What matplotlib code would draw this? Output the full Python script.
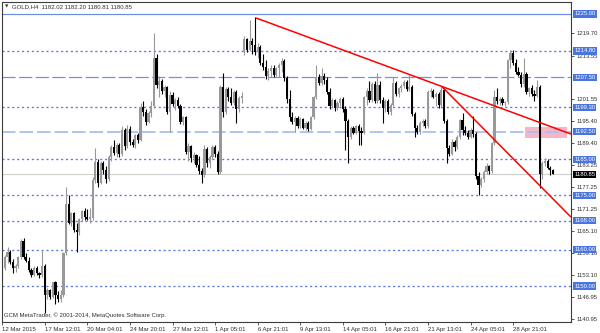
"""GOLD H4 candlestick chart in MetaTrader style, with levels and trend lines."""

import matplotlib
matplotlib.use("Agg")
import matplotlib.pyplot as plt
import matplotlib.patches as patches
import matplotlib.transforms as mtransforms

plt.rcParams["font.family"] = ["Liberation Sans", "DejaVu Sans"]

# ---------------------------------------------------------------------------
# Colour scheme
# ---------------------------------------------------------------------------
BULL_CLR = "#999999"
BEAR_CLR = "#000000"
LEVEL_CLR = "#5b7be4"
DASH_CLR = "#7890d8"
LIGHT_DASH_CLR = "#a9bff2"
SOLID_CLR = "#6a8ce4"
BOX_CLR = "#4a74df"
TREND_CLR = "#ff0000"
ZONE_CLR = "#f7b6c7"
PRICE_LINE_CLR = "#cfcfcf"
FRAME_CLR = "#3c3c3c"
TEXT_CLR = "#303030"

# ---------------------------------------------------------------------------
# Data (H4 bars, index 0 = 12 Mar 2015 20:01)
# ---------------------------------------------------------------------------
opens = [
    1153.0, 1155.0, 1158.0, 1159.5, 1156.5, 1155.0, 1155.5, 1158.0, 1162.5, 1158.0, 1157.0, 1154.5, 1153.0, 1155.0, 1153.5, 1153.0,
    1155.5, 1147.5, 1149.0, 1147.0, 1151.0, 1147.5, 1146.5, 1147.5, 1159.0, 1172.5, 1167.5, 1170.0, 1165.5, 1164.8, 1168.5, 1170.8,
    1169.0, 1168.6, 1168.8, 1179.2, 1184.2, 1178.5, 1183.8, 1182.0, 1179.5, 1185.5, 1188.3, 1186.8, 1189.0, 1186.3, 1193.0, 1188.5,
    1193.2, 1189.8, 1188.8, 1191.5, 1190.3, 1199.3, 1198.0, 1195.2, 1197.8, 1199.6, 1213.0, 1205.3, 1206.5, 1203.8, 1204.8, 1198.0,
    1202.7, 1200.2, 1201.3, 1199.5, 1195.3, 1196.5, 1187.0, 1188.6, 1185.2, 1186.0, 1183.5, 1181.8, 1180.5, 1187.8, 1183.8, 1185.5,
    1188.3, 1186.5, 1181.3, 1204.8, 1198.0, 1204.3, 1202.0, 1200.5, 1203.5, 1198.8, 1201.8, 1214.5, 1218.0, 1215.2, 1217.5, 1216.5,
    1214.5, 1216.0, 1211.5, 1210.5, 1207.8, 1209.3, 1210.2, 1208.3, 1210.0, 1210.8, 1212.0, 1207.3, 1201.5, 1196.5, 1195.3, 1196.2,
    1194.0, 1196.0, 1193.6, 1195.0, 1193.3, 1196.6, 1202.0, 1207.6, 1206.0, 1208.0, 1206.8, 1203.5, 1199.5, 1201.2, 1199.0, 1200.5,
    1201.5, 1198.8, 1195.5, 1191.0, 1193.5, 1192.3, 1194.0, 1192.8, 1192.3, 1202.0, 1203.8, 1201.3, 1205.8, 1201.0, 1205.5, 1201.3,
    1199.0, 1201.0, 1198.0, 1199.8, 1206.0, 1203.0, 1204.5, 1205.2, 1206.3, 1204.2, 1205.0, 1197.5, 1193.5, 1192.5, 1195.0, 1195.6,
    1194.0, 1203.5, 1203.8, 1202.2, 1203.0, 1199.8, 1204.0, 1195.5, 1188.0, 1186.5, 1189.8, 1188.3, 1191.0, 1195.8, 1193.0, 1192.2,
    1191.2, 1193.0, 1191.8, 1180.3, 1177.8, 1179.5, 1181.5, 1183.2, 1181.6, 1189.4, 1202.0, 1201.0, 1201.5, 1200.5, 1200.8, 1212.3,
    1214.2, 1211.5, 1209.0, 1208.3, 1205.6, 1208.5, 1203.5, 1204.5, 1203.0, 1202.5, 1205.0, 1181.0, 1184.0, 1184.5, 1182.6, 1182.02,
]
highs = [
    1156.0, 1158.5, 1160.8, 1160.0, 1157.5, 1156.0, 1158.3, 1163.0, 1163.2, 1159.0, 1158.0, 1155.0, 1155.5, 1155.5, 1154.0, 1160.0,
    1156.0, 1149.5, 1149.3, 1151.2, 1151.5, 1148.5, 1149.0, 1159.5, 1177.3, 1175.0, 1170.5, 1170.5, 1167.5, 1168.8, 1171.0, 1171.5,
    1171.2, 1171.5, 1180.0, 1188.0, 1185.0, 1184.5, 1184.5, 1183.0, 1186.0, 1189.0, 1190.2, 1189.5, 1189.5, 1194.0, 1193.5, 1194.5,
    1194.0, 1190.5, 1192.0, 1192.3, 1200.5, 1201.0, 1198.8, 1198.3, 1201.0, 1219.8, 1214.0, 1208.0, 1207.0, 1205.5, 1205.2, 1203.8,
    1203.5, 1201.8, 1202.0, 1200.2, 1197.0, 1197.0, 1189.5, 1189.0, 1187.0, 1186.5, 1185.8, 1182.5, 1189.0, 1188.3, 1186.0, 1189.0,
    1189.0, 1187.2, 1205.5, 1208.7, 1205.0, 1205.0, 1204.5, 1204.0, 1204.0, 1202.5, 1203.5, 1218.8, 1218.5, 1223.3, 1218.5, 1224.2,
    1217.0, 1216.5, 1214.0, 1212.3, 1210.0, 1211.0, 1210.8, 1210.5, 1211.5, 1213.0, 1212.5, 1208.0, 1204.0, 1198.0, 1197.0, 1196.8,
    1196.5, 1196.3, 1195.5, 1195.5, 1197.0, 1202.5, 1211.0, 1208.5, 1210.0, 1208.6, 1207.5, 1204.5, 1201.8, 1201.5, 1201.0, 1202.0,
    1202.0, 1199.5, 1196.0, 1194.0, 1194.0, 1194.5, 1194.8, 1193.8, 1202.5, 1204.5, 1206.5, 1206.3, 1206.5, 1208.7, 1206.5, 1202.0,
    1201.5, 1201.5, 1200.5, 1207.5, 1206.5, 1205.0, 1205.8, 1206.8, 1206.8, 1208.2, 1205.5, 1198.0, 1194.5, 1195.5, 1196.0, 1196.0,
    1204.0, 1204.5, 1204.2, 1203.5, 1203.4, 1205.0, 1204.5, 1196.0, 1189.0, 1190.5, 1190.2, 1191.5, 1196.0, 1197.8, 1194.0, 1193.0,
    1193.5, 1196.8, 1192.5, 1181.5, 1180.0, 1182.0, 1183.8, 1183.5, 1189.8, 1204.0, 1204.5, 1202.0, 1202.2, 1201.0, 1212.5, 1215.0,
    1215.2, 1212.5, 1210.5, 1209.0, 1213.0, 1209.0, 1205.0, 1205.5, 1204.0, 1206.8, 1205.5, 1184.5, 1185.2, 1185.0, 1183.0, 1182.2,
]
lows = [
    1151.5, 1154.5, 1156.4, 1156.0, 1153.6, 1153.8, 1155.0, 1157.5, 1157.5, 1156.5, 1154.0, 1152.5, 1152.8, 1153.0, 1152.3, 1152.5,
    1142.6, 1146.3, 1146.5, 1146.8, 1145.0, 1145.5, 1145.5, 1147.0, 1158.5, 1167.0, 1166.5, 1165.0, 1159.4, 1164.0, 1168.0, 1168.3,
    1168.3, 1167.5, 1168.3, 1178.5, 1177.3, 1178.0, 1181.0, 1178.3, 1179.0, 1184.5, 1186.0, 1185.5, 1185.5, 1185.8, 1187.5, 1188.0,
    1189.0, 1188.3, 1188.0, 1189.5, 1190.0, 1196.8, 1194.3, 1195.0, 1196.5, 1199.0, 1204.5, 1202.0, 1203.0, 1202.0, 1197.5, 1192.5,
    1199.5, 1198.5, 1199.0, 1194.8, 1194.5, 1186.5, 1184.5, 1184.3, 1183.8, 1182.8, 1181.0, 1178.4, 1180.0, 1182.8, 1182.5, 1185.0,
    1185.5, 1180.8, 1181.0, 1196.6, 1197.5, 1201.0, 1199.8, 1200.0, 1195.0, 1198.0, 1200.5, 1213.8, 1214.5, 1214.8, 1214.0, 1213.8,
    1212.8, 1211.0, 1209.5, 1207.0, 1206.8, 1207.5, 1207.5, 1207.8, 1207.5, 1209.0, 1206.5, 1200.5, 1195.5, 1194.8, 1192.5, 1193.6,
    1193.5, 1193.2, 1193.0, 1192.8, 1193.0, 1196.0, 1201.5, 1205.5, 1205.5, 1205.8, 1203.0, 1198.8, 1199.0, 1198.3, 1198.5, 1199.5,
    1198.0, 1187.5, 1183.9, 1190.5, 1191.8, 1192.0, 1189.0, 1189.0, 1192.0, 1200.0, 1200.8, 1200.8, 1200.5, 1200.5, 1200.5, 1195.0,
    1198.0, 1197.5, 1197.2, 1199.5, 1202.5, 1202.0, 1203.5, 1204.5, 1203.8, 1203.8, 1197.0, 1191.0, 1192.0, 1192.0, 1194.0, 1193.5,
    1193.5, 1202.0, 1201.8, 1199.5, 1199.0, 1199.2, 1195.0, 1183.9, 1185.8, 1186.0, 1187.2, 1187.8, 1190.5, 1191.5, 1191.5, 1190.5,
    1190.8, 1191.0, 1179.5, 1175.0, 1177.3, 1178.8, 1181.0, 1181.0, 1181.2, 1189.0, 1200.3, 1199.8, 1200.0, 1199.5, 1200.3, 1210.0,
    1211.0, 1208.5, 1208.0, 1205.0, 1205.0, 1203.0, 1202.5, 1202.5, 1201.0, 1202.0, 1177.0, 1179.5, 1183.0, 1182.2, 1180.5, 1180.81,
]
closes = [
    1155.0, 1158.0, 1159.5, 1156.5, 1155.0, 1155.5, 1158.0, 1162.5, 1158.0, 1157.0, 1154.5, 1153.0, 1155.0, 1153.5, 1153.0, 1155.5,
    1147.5, 1149.0, 1147.0, 1151.0, 1147.5, 1146.5, 1147.5, 1159.0, 1172.5, 1167.5, 1170.0, 1165.5, 1164.8, 1168.5, 1170.8, 1169.0,
    1168.6, 1168.8, 1179.2, 1184.2, 1178.5, 1183.8, 1182.0, 1179.5, 1185.5, 1188.3, 1186.8, 1189.0, 1186.3, 1193.0, 1188.5, 1193.2,
    1189.8, 1188.8, 1191.5, 1190.3, 1199.3, 1198.0, 1195.2, 1197.8, 1199.6, 1213.0, 1205.3, 1206.5, 1203.8, 1204.8, 1198.0, 1202.7,
    1200.2, 1201.3, 1199.5, 1195.3, 1196.5, 1187.0, 1188.6, 1185.2, 1186.0, 1183.5, 1181.8, 1180.5, 1187.8, 1183.8, 1185.5, 1188.3,
    1186.5, 1181.3, 1204.8, 1198.0, 1204.3, 1202.0, 1200.5, 1203.5, 1198.8, 1201.8, 1202.5, 1218.0, 1215.2, 1217.5, 1216.5, 1214.5,
    1216.0, 1211.5, 1210.5, 1207.8, 1209.3, 1210.2, 1208.3, 1210.0, 1210.8, 1212.0, 1207.3, 1201.5, 1196.5, 1195.3, 1196.2, 1194.0,
    1196.0, 1193.6, 1195.0, 1193.3, 1196.6, 1202.0, 1207.6, 1206.0, 1208.0, 1206.8, 1203.5, 1199.5, 1201.2, 1199.0, 1200.5, 1201.5,
    1198.8, 1195.5, 1191.0, 1193.5, 1192.3, 1194.0, 1192.8, 1192.3, 1202.0, 1203.8, 1201.3, 1205.8, 1201.0, 1205.5, 1201.3, 1199.0,
    1201.0, 1198.0, 1199.8, 1206.0, 1203.0, 1204.5, 1205.2, 1206.3, 1204.2, 1205.0, 1197.5, 1193.5, 1192.5, 1195.0, 1195.6, 1194.0,
    1203.5, 1203.8, 1202.2, 1203.0, 1199.8, 1204.0, 1195.5, 1188.0, 1186.5, 1189.8, 1188.3, 1191.0, 1195.8, 1193.0, 1192.2, 1191.2,
    1193.0, 1191.8, 1180.3, 1177.8, 1179.5, 1181.5, 1183.2, 1181.6, 1189.4, 1202.0, 1201.0, 1201.5, 1200.5, 1200.8, 1212.3, 1214.2,
    1211.5, 1209.0, 1208.3, 1205.6, 1208.5, 1203.5, 1204.5, 1203.0, 1202.5, 1205.0, 1181.0, 1184.0, 1184.5, 1182.6, 1182.0, 1180.85,
]

time_tick_bars = [0, 16, 32, 48, 64, 80, 96, 112, 128, 144, 160, 176, 192]
time_tick_labels = [
    "12 Mar 2015", "17 Mar 12:01", "20 Mar 04:01", "24 Mar 20:01", "27 Mar 12:01",
    "1 Apr 05:01", "6 Apr 21:01", "9 Apr 13:01", "14 Apr 05:01", "16 Apr 21:01",
    "21 Apr 13:01", "24 Apr 05:01", "28 Apr 21:01",
]
# right scale (values hidden behind the level boxes are left out)
price_ticks = [1219.70, 1213.55, 1201.55, 1195.40, 1189.40, 1183.25,
               1177.25, 1171.25, 1165.10, 1159.10, 1153.10, 1146.95, 1140.95]

# horizontal levels and their line kind
level_prices = [1225.00, 1214.80, 1207.50, 1199.30, 1192.50, 1185.00, 1175.00, 1168.00, 1160.00, 1150.00]
level_kinds = ["solid", "dot", "dash", "dot", "lightdash", "dot", "dot", "dot", "dot", "dot"]

last_price = 1180.85

# trend lines: (bar0, price0, bar1, price1)
trend_lines = [
    (95.4, 1223.9, 213.75, 1191.9),
    (165.2, 1205.0, 213.75, 1169.0),
]
# highlighted zone: (bar0, bar1, price_low, price_high)
zone = (196.5, 212.3, 1190.8, 1193.8)

title_text = "GOLD,H4  1182.02 1182.20 1180.81 1180.85"
copyright_text = "GCM MetaTrader, \u00a9 2001-2014, MetaQuotes Software Corp."

# ---------------------------------------------------------------------------
# Figure
# ---------------------------------------------------------------------------
fig = plt.figure(figsize=(6.0, 3.33), dpi=100, facecolor="white")
ax = fig.add_axes([2 / 600, 11.3 / 333, 569 / 600, 320 / 333])
ax.set_xlim(-0.08, 213.75)
ax.set_ylim(1140.16, 1228.39)

for side in ["left", "right", "top", "bottom"]:
    ax.spines[side].set_color(FRAME_CLR)
    ax.spines[side].set_linewidth(0.8)

# zone rectangle
ax.add_patch(patches.Rectangle(
    (zone[0], zone[2]), zone[1] - zone[0], zone[3] - zone[2],
    facecolor=ZONE_CLR, edgecolor="none", zorder=0.5,
))

# levels
for price, kind in zip(level_prices, level_kinds):
    if kind == "solid":
        ax.axhline(price, color=SOLID_CLR, linewidth=0.85, zorder=1)
    elif kind == "dot":
        ax.axhline(price, color=LEVEL_CLR, linewidth=0.95, linestyle=(0, (1.6, 2.1)), zorder=1)
    elif kind == "dash":
        ax.axhline(price, color=DASH_CLR, linewidth=0.9, linestyle=(0, (10.5, 2.8)), zorder=1)
    else:
        ax.axhline(price, color=LIGHT_DASH_CLR, linewidth=1.3, linestyle=(0, (7.5, 2.2)), zorder=1)

ax.axhline(last_price, color=PRICE_LINE_CLR, linewidth=0.8, zorder=1)

# candles
xs = list(range(len(closes)))
bull = [c >= o for o, c in zip(opens, closes)]
colors = [BULL_CLR if b else BEAR_CLR for b in bull]
ax.vlines(xs, lows, highs, colors=colors, linewidth=0.8, zorder=2)
bottoms = [min(o, c) for o, c in zip(opens, closes)]
heights = [max(abs(c - o), 0.3) for o, c in zip(opens, closes)]
ax.bar(xs, heights, bottom=bottoms, width=0.82, color=colors, linewidth=0, zorder=2.1)

# trend lines
for b0, p0, b1, p1 in trend_lines:
    ax.plot([b0, b1], [p0, p1], color=TREND_CLR, linewidth=1.1, zorder=3,
            solid_capstyle="butt", clip_on=False)

# axes ticks
ax.set_xticks(time_tick_bars)
ax.set_xticklabels(time_tick_labels, ha="left", fontsize=4.3, color=TEXT_CLR)
ax.tick_params(axis="x", direction="out", length=2.5, width=0.6, pad=1.0, color=FRAME_CLR)

ax.yaxis.tick_right()
ax.set_yticks(price_ticks)
ax.set_yticklabels([f"{p:.2f}" for p in price_ticks], fontsize=4.2, color=TEXT_CLR)
ax.tick_params(axis="y", direction="out", length=2.5, width=0.6, pad=1.2, color=FRAME_CLR)

# price boxes on the right scale
box_tr = mtransforms.blended_transform_factory(ax.transAxes, ax.transData)
for price in level_prices:
    ax.text(1.0 + 3.2 / 569, price, f"{price:.2f}", transform=box_tr,
            fontsize=4.2, color="white", va="center", ha="left", clip_on=False, zorder=6,
            bbox=dict(boxstyle="square,pad=0.18", facecolor=BOX_CLR, edgecolor="none"))
ax.text(1.0 + 3.2 / 569, last_price, f"{last_price:.2f}", transform=box_tr,
        fontsize=4.2, color="white", va="center", ha="left", clip_on=False, zorder=6,
        bbox=dict(boxstyle="square,pad=0.18", facecolor="black", edgecolor="none"))

# header and footer text
fig.text(5 / 600, 1 - 7 / 333, "\u25bc", fontsize=3.2, color=TEXT_CLR,
         va="center", ha="left", family="DejaVu Sans")
fig.text(12 / 600, 1 - 7 / 333, title_text, fontsize=4.3, color=TEXT_CLR,
         va="center", ha="left")
fig.text(4 / 600, 1 - 315 / 333, copyright_text, fontsize=4.3, color=TEXT_CLR,
         va="center", ha="left")

fig.savefig("out.png", dpi=100, facecolor="white")
plt.close(fig)
